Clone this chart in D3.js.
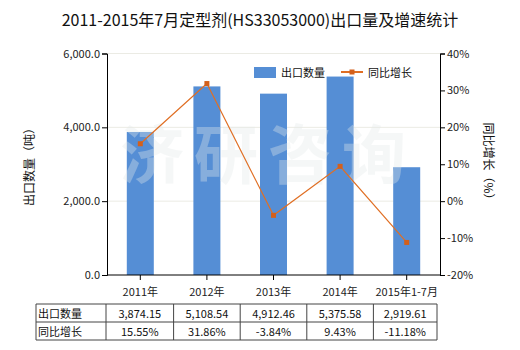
<!DOCTYPE html>
<html><head><meta charset="utf-8">
<script src="https://cdn.jsdelivr.net/npm/d3@7"></script>
<style>body{margin:0;background:#fff}text{font-family:"Noto Sans CJK SC","Noto Sans",sans-serif}</style>
</head><body><svg id="c" width="520" height="350"></svg>
<script>
const categories = ["2011年","2012年","2013年","2014年","2015年1-7月"];
const exportQty = [3874.15, 5108.54, 4912.46, 5375.58, 2919.61];
const growth = [15.55, 31.86, -3.84, 9.43, -11.18];
const qtyLabels = ["3,874.15","5,108.54","4,912.46","5,375.58","2,919.61"];
const growthLabels = ["15.55%","31.86%","-3.84%","9.43%","-11.18%"];
const leftTicks = [0, 2000, 4000, 6000];
const rightTicks = [-20,-10,0,10,20,30,40];

const svg = d3.select("#c");
const L = 107, R = 440, T = 53.5, B = 275;
const xc = d3.scaleBand().domain(categories).range([L, R]);
const y = d3.scaleLinear().domain([0, 6000]).range([B, T]);
const y2 = d3.scaleLinear().domain([-20, 40]).range([B, T]);

svg.append("text").attr("x", 260).attr("y", 26).attr("text-anchor", "middle")
  .attr("font-size", 16).attr("fill", "#111").text("2011-2015年7月定型剂(HS33053000)出口量及增速统计");

// gridlines
svg.append("g").selectAll("line").data(leftTicks.slice(1)).join("line")
  .attr("x1", L).attr("x2", R).attr("y1", d => y(d)).attr("y2", d => y(d))
  .attr("stroke", "#ebebe4").attr("stroke-width", 1);

// bars
svg.append("g").selectAll("rect").data(exportQty).join("rect")
  .attr("x", (d, i) => xc(categories[i]) + xc.bandwidth() / 2 - 13.5)
  .attr("width", 27)
  .attr("y", d => y(d)).attr("height", d => B - y(d))
  .attr("fill", "#558ed5");

// watermark (on top, translucent)
svg.append("text").attr("x", 268).attr("y", 178).attr("text-anchor", "middle")
  .attr("font-size", 64).attr("font-weight", "bold").attr("fill", "#e4eaea").attr("opacity", 0.35)
  .attr("letter-spacing", 10).text("济研咨询");

// axes
const fmt = d3.format(",.1f");
const la = svg.append("g").attr("transform", `translate(${L},0)`)
  .call(d3.axisLeft(y).tickValues(leftTicks).tickFormat(d => fmt(d)).tickSize(5).tickPadding(2));
const ra = svg.append("g").attr("transform", `translate(${R},0)`)
  .call(d3.axisRight(y2).tickValues(rightTicks).tickFormat(d => d + "%").tickSize(5).tickPadding(2));
const ba = svg.append("g").attr("transform", `translate(0,${B})`)
  .call(d3.axisBottom(xc).tickSize(5).tickPadding(8));
[la, ra, ba].forEach(g => {
  g.select(".domain").attr("stroke", "#000");
  g.selectAll(".tick line").attr("stroke", "#000");
  g.selectAll("text").attr("font-size", 11).attr("fill", "#222")
    .attr("font-family", "'Noto Sans CJK SC','Noto Sans',sans-serif");
});
ba.select(".domain").attr("d", `M${L},0H${R}`);

// line
const line = d3.line().x((d, i) => xc(categories[i]) + xc.bandwidth() / 2).y(d => y2(d));
svg.append("path").datum(growth).attr("d", line).attr("fill", "none")
  .attr("stroke", "#e06f24").attr("stroke-width", 1.2);
svg.append("g").selectAll("rect").data(growth).join("rect")
  .attr("x", (d, i) => xc(categories[i]) + xc.bandwidth() / 2 - 2.5)
  .attr("y", d => y2(d) - 2.5).attr("width", 5).attr("height", 5).attr("fill", "#d3601c");

// axis titles
svg.append("text").attr("transform", "translate(34,164) rotate(-90)").attr("text-anchor", "middle")
  .attr("font-size", 12).attr("fill", "#111").text("出口数量（吨）");
svg.append("text").attr("transform", "translate(484,164) rotate(90)").attr("text-anchor", "middle")
  .attr("font-size", 12).attr("fill", "#111").text("同比增长（%）");

// legend
svg.append("rect").attr("x", 254).attr("y", 67).attr("width", 22).attr("height", 11).attr("fill", "#558ed5");
svg.append("text").attr("x", 281).attr("y", 77).attr("font-size", 11).attr("fill", "#111").text("出口数量");
svg.append("line").attr("x1", 341).attr("x2", 363).attr("y1", 72).attr("y2", 72).attr("stroke", "#e06f24").attr("stroke-width", 2);
svg.append("rect").attr("x", 349.5).attr("y", 69.5).attr("width", 5).attr("height", 5).attr("fill", "#d3601c");
svg.append("text").attr("x", 368).attr("y", 77).attr("font-size", 11).attr("fill", "#111").text("同比增长");

// table
const tT = 304, tM = 322, tB = 340, tL = 36;
const tg = svg.append("g");
const colX = [tL].concat(categories.map(c => xc(c))).concat([437]);
colX[1] = 106;
const rows = [["出口数量", qtyLabels], ["同比增长", growthLabels]];
[tT, tM, tB].forEach(yy => tg.append("line").attr("x1", tL).attr("x2", 437).attr("y1", yy).attr("y2", yy).attr("stroke", "#444"));
colX.forEach(xx => tg.append("line").attr("x1", xx).attr("x2", xx).attr("y1", tT).attr("y2", tB).attr("stroke", "#444"));
rows.forEach((r, ri) => {
  const yy = (ri === 0 ? tT : tM) + 13.5;
  tg.append("text").attr("x", tL + 2).attr("y", yy).attr("font-size", 11).attr("fill", "#111").text(r[0]);
  tg.selectAll(null).data(r[1]).join("text")
    .attr("x", (d, i) => (colX[i + 1] + colX[i + 2]) / 2).attr("y", yy)
    .attr("text-anchor", "middle").attr("font-size", 11).attr("fill", "#111").text(d => d);
});
</script></body></html>
